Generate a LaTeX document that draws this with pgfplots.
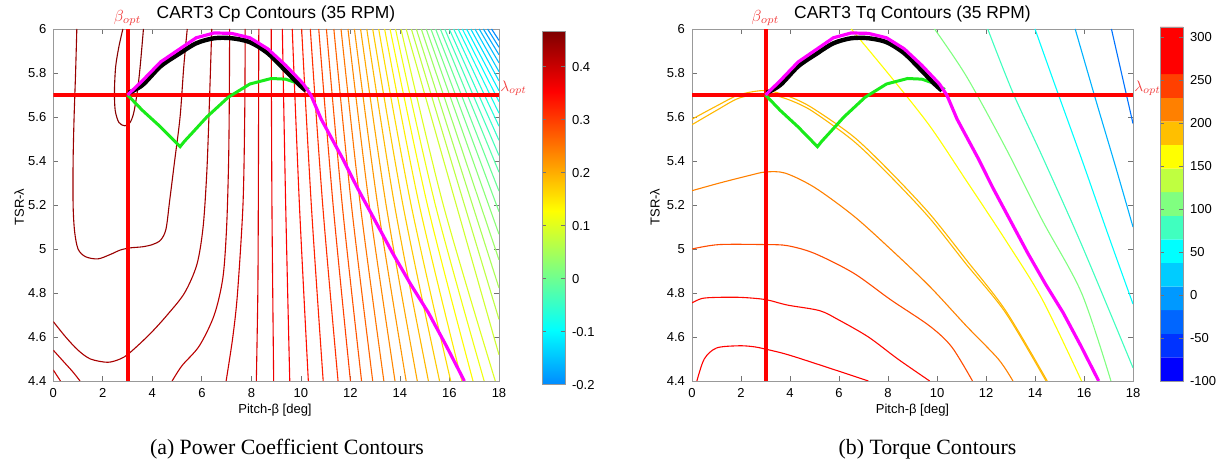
\documentclass[border=0pt]{standalone}
\usepackage{pgfplots}
\pgfplotsset{compat=1.18}
\usepackage{fontspec}
\setmainfont{Liberation Sans}
\newfontfamily\seriffont{Liberation Serif}
\newcommand{\CL}[4]{\addplot[line width=0.55pt, smooth, tension=0.5, color={rgb,1:red,#1;green,#2;blue,#3}] coordinates {#4};}
\newcommand{\tfont}{\fontsize{6.5}{7.5}\selectfont}
\definecolor{optred}{rgb}{0.95,0.25,0.25}
\definecolor{mgreen}{rgb}{0.1,0.92,0.1}
\definecolor{mmag}{rgb}{1,0,1}
\pgfplotsset{
  myax/.style={scale only axis, anchor=south west, xmin=0, xmax=18, ymin=4.4, ymax=6,
    xtick={0,2,4,6,8,10,12,14,16,18}, xticklabels={0,2,4,6,8,10,12,14,16,18},
    ytick={4.4,4.6,4.8,5,5.2,5.4,5.6,5.8,6},
    yticklabels={4.4,4.6,4.8,5,5.2,5.4,5.6,5.8,6},
    tick align=inside, major tick length=2.5pt,
    axis line style={draw=black!40},
    every tick/.style={draw=black!55, line width=0.4pt},
    tick label style={font=\tfont},
    /pgf/number format/assume math mode=true},
  optlines/.style={red, line width=2pt},
}
\begin{document}
\begin{tikzpicture}
\path[use as bounding box] (0,0) rectangle (611pt,232pt);
% ---------------- left axis: Cp -----------------
\begin{axis}[myax, name=L, at={(26.65pt,41.5pt)}, width=222.85pt, height=176pt,
  colormap={cpjet}{rgb(0cm)=(0,0.54,1); rgb(1.55cm)=(0,1,1); rgb(4.93cm)=(1,1,0); rgb(8.31cm)=(1,0,0); rgb(10cm)=(0.5,0,0)},
  point meta min=-0.2, point meta max=0.466,
  colorbar,
  colorbar style={at={(parent axis.north east)}, anchor=north west, xshift=13pt, yshift=-1.35pt,
    width=11.5pt, height=176.6pt, scale only axis,
    ytick={-0.2,-0.1,0,0.1,0.2,0.3,0.4}, yticklabels={-0.2,-0.1,0,0.1,0.2,0.3,0.4},
    yticklabel pos=right, tick align=inside, major tick length=2pt,
    axis line style={draw=black!40}, every tick/.style={draw=black!55, line width=0.4pt},
    yticklabel style={font=\tfont}}]
\CL{0.53}{0}{0}{(2.81,6.0) (2.65,5.92) (2.52,5.83) (2.47,5.72) (2.5,5.63) (2.65,5.575) (2.89,5.56) (3.1,5.575) (3.25,5.62) (3.4,5.72) (3.5,5.82) (3.58,5.92) (3.64,6.0)}
\CL{0.6}{0}{0}{(0.95,6) (0.9,5.8) (0.84,5.6) (0.8,5.4) (0.8,5.2) (0.86,5.08) (1.0,5.0) (1.3,4.965) (1.8,4.955) (2.3,4.975) (2.7,4.995) (3.1,5.005) (3.6,5.01) (4.0,5.02) (4.33,5.04) (4.55,5.09) (4.7,5.22) (4.9,5.4) (5.12,5.6) (5.27,5.83) (5.41,6)}
\CL{0.66}{0}{0}{(0,4.67) (0.5,4.6) (1.0,4.54) (1.5,4.5) (2.2,4.485) (2.7,4.5) (3.0,4.52) (3.5,4.57) (4.0,4.625) (4.6,4.7) (5.3,4.8) (5.8,4.93) (6.05,5.1) (6.2,5.35) (6.3,5.65) (6.4,6.0)}
\CL{0.73}{0}{0}{(0,4.54) (0.4,4.49) (0.8,4.44) (1.08,4.4)}
\CL{0.73}{0}{0}{(4.8,4.4) (5.2,4.47) (5.9,4.56) (6.5,4.7) (6.85,4.87) (7.0,5.1) (7.08,5.4) (7.11,5.7) (7.12,6.0)}
\CL{0.79}{0}{0}{(0,4.45) (0.29,4.4)}
\CL{0.79}{0}{0}{(6.98,4.4) (7.25,4.6) (7.44,4.8) (7.66,5.2) (7.73,5.6) (7.75,6)}
\CL{0.86}{0}{0}{(8.2,4.4) (8.26,4.8) (8.28,5.2) (8.29,5.6) (8.3,6)}
\CL{0.93}{0}{0}{(8.9,4.4) (8.83,5.2) (8.8,6)}
\CL{0.99}{0}{0}{(9.55,4.4) (9.385,5.2) (9.25,6)}
\CL{1}{0.06}{0}{(10.3,4.4) (9.94,5.2) (9.65,6)}
\CL{1}{0.13}{0}{(10.9,4.4) (10.42,5.2) (10.03,6)}
\CL{1}{0.19}{0}{(11.5,4.4) (10.88,5.2) (10.38,6)}
\CL{1}{0.26}{0}{(12.0,4.4) (11.3,5.2) (10.72,6)}
\CL{1}{0.33}{0}{(12.45,4.4) (11.67,5.2) (11.03,6)}
\CL{1}{0.39}{0}{(12.9,4.4) (12.04,5.2) (11.33,6)}
\CL{1}{0.46}{0}{(13.35,4.4) (12.4,5.2) (11.62,6)}
\CL{1}{0.53}{0}{(13.8,4.4) (12.76,5.2) (11.9,6)}
\CL{1}{0.59}{0}{(14.25,4.4) (13.1,5.2) (12.16,6)}
\CL{1}{0.66}{0}{(14.7,4.4) (13.44,5.2) (12.41,6)}
\CL{1}{0.72}{0}{(15.15,4.4) (13.78,5.2) (12.66,6)}
\CL{1}{0.79}{0}{(15.6,4.4) (14.12,5.2) (12.9,6)}
\CL{1}{0.86}{0}{(16.05,4.4) (14.45,5.2) (13.14,6)}
\CL{1}{0.93}{0}{(16.5,4.4) (14.78,5.2) (13.38,6)}
\CL{1}{0.99}{0}{(16.95,4.4) (15.11,5.2) (13.6,6)}
\CL{0.94}{1}{0.06}{(17.4,4.4) (15.43,5.2) (13.82,6)}
\CL{0.87}{1}{0.13}{(17.85,4.4) (15.75,5.2) (14.04,6)}
\CL{0.81}{1}{0.19}{(18,4.519) (14.25,6)}
\CL{0.74}{1}{0.26}{(18,4.68) (14.46,6)}
\CL{0.67}{1}{0.33}{(18,4.823) (14.66,6)}
\CL{0.61}{1}{0.39}{(18,4.951) (14.86,6)}
\CL{0.54}{1}{0.46}{(18,5.067) (15.06,6)}
\CL{0.47}{1}{0.53}{(18,5.17) (15.25,6)}
\CL{0.41}{1}{0.59}{(18,5.263) (15.44,6)}
\CL{0.34}{1}{0.66}{(18,5.349) (15.63,6)}
\CL{0.27}{1}{0.73}{(18,5.425) (15.81,6)}
\CL{0.21}{1}{0.79}{(18,5.494) (15.99,6)}
\CL{0.14}{1}{0.86}{(18,5.558) (16.17,6)}
\CL{0.07}{1}{0.93}{(18,5.617) (16.35,6)}
\CL{0.01}{1}{0.99}{(18,5.67) (16.52,6)}
\CL{0}{0.94}{1}{(18,5.719) (16.69,6)}
\CL{0}{0.875}{1}{(18,5.764) (16.86,6)}
\CL{0}{0.81}{1}{(18,5.806) (17.03,6)}
\CL{0}{0.74}{1}{(18,5.846) (17.2,6)}
\CL{0}{0.67}{1}{(18,5.883) (17.37,6)}
\CL{0}{0.61}{1}{(18,5.917) (17.54,6)}
\CL{0}{0.54}{1}{(18,5.948) (17.7,6)}
% optimum lines
\addplot[optlines] coordinates {(3,4.4) (3,6)};
\addplot[optlines] coordinates {(0,5.7) (18,5.7)};
\addplot[mgreen, line width=1.5pt] coordinates {(3,5.7) (3.6,5.63) (4.33,5.555) (5.12,5.465) (5.3,5.49) (5.63,5.53) (6.2,5.6) (7.07,5.69) (7.94,5.75) (8.8,5.775) (9.38,5.772) (9.96,5.75) (10.32,5.725)};
\addplot[black, line width=2.2pt, smooth] coordinates {(3.05,5.71) (3.6,5.745) (4.33,5.83) (5.05,5.885) (5.77,5.935) (6.5,5.958) (7.2,5.958) (7.94,5.94) (8.66,5.89) (9.38,5.81) (9.9,5.75) (10.2,5.72)};
\addplot[mmag, line width=1.6pt] coordinates {(3,5.7) (3.6,5.765) (4.33,5.85) (5.05,5.905) (5.77,5.96) (6.5,5.982) (7.2,5.98) (7.94,5.96) (8.66,5.91) (9.38,5.835) (10.1,5.75) (10.4,5.7) (10.82,5.59) (11.69,5.41) (12.27,5.28) (12.99,5.13) (13.71,4.98) (14.43,4.84) (15.15,4.71) (15.87,4.56) (16.6,4.4)};
\end{axis}
% ---------------- right axis: Tq -----------------
\begin{axis}[myax, name=R, at={(346pt,41.5pt)}, width=220.5pt, height=176pt]
\CL{1}{0}{0}{(0.2,4.4) (0.5,4.5) (1.0,4.55) (1.9,4.56) (2.5,4.556) (3.0,4.545) (3.9,4.52) (5.3,4.47) (7.2,4.4)}
\CL{1}{0.03}{0}{(0,4.755) (0.4,4.775) (1,4.78) (2,4.78) (3,4.77) (3.9,4.745) (5.2,4.72) (5.95,4.68) (7.2,4.6) (8.4,4.5) (9.7,4.4)}
\CL{1}{0.3}{0}{(0,5.0) (1.1,5.02) (3,5.02) (3.9,5.015) (5,4.98) (6.6,4.89) (8.1,4.77) (9.7,4.65) (10.6,4.555) (11.45,4.4)}
\CL{1}{0.5}{0}{(0,5.265) (1.13,5.3) (2.37,5.335) (3,5.35) (3.8,5.345) (5,5.28) (6.6,5.15) (8.1,5.0) (9.7,4.83) (11.2,4.65) (12.5,4.5) (13.1,4.4)}
\CL{1}{0.72}{0}{(0,5.59) (1,5.65) (1.9,5.70) (2.85,5.72) (3.5,5.71) (4.25,5.68) (5,5.635) (6.6,5.51) (8.1,5.35) (9.7,5.16) (11.2,4.95) (12.8,4.72) (14.5,4.4)}
\CL{1}{0.72}{0}{(0,5.565) (1,5.63) (1.9,5.685) (2.85,5.705) (3.5,5.695) (4.25,5.665) (5,5.62) (6.6,5.49) (8.1,5.33) (9.7,5.14) (11.2,4.93) (12.8,4.71) (14.45,4.4)}
\CL{1}{1}{0}{(6.5,6) (8.1,5.785) (9.7,5.56) (11.2,5.31) (12.8,5.04) (14.3,4.77) (15.9,4.4)}
\CL{0.5}{1}{0.5}{(9.9,6) (11.2,5.785) (12.8,5.46) (14.3,5.13) (15.9,4.8) (17.1,4.4)}
\CL{0.25}{1}{0.75}{(12.07,6) (13.1,5.71) (14.3,5.42) (15.9,5.02) (18,4.46)}
\CL{0}{1}{1}{(14.0,6) (14.8,5.75) (15.9,5.41) (17,5.06) (18,4.75)}
\CL{0}{0.7}{1}{(15.64,6) (16.5,5.67) (17.3,5.37) (18,5.1)}
\CL{0}{0.45}{1}{(17.12,6) (18,5.57)}
\addplot[optlines] coordinates {(3,4.4) (3,6)};
\addplot[optlines] coordinates {(0,5.7) (18,5.7)};
\addplot[mgreen, line width=1.5pt] coordinates {(3,5.7) (3.6,5.63) (4.33,5.555) (5.12,5.465) (5.3,5.49) (5.63,5.53) (6.2,5.6) (7.07,5.69) (7.94,5.75) (8.8,5.775) (9.38,5.772) (9.96,5.75) (10.32,5.725)};
\addplot[black, line width=2.2pt, smooth] coordinates {(3.05,5.71) (3.6,5.745) (4.33,5.83) (5.05,5.885) (5.77,5.935) (6.5,5.958) (7.2,5.958) (7.94,5.94) (8.66,5.89) (9.38,5.81) (9.9,5.75) (10.2,5.72)};
\addplot[mmag, line width=1.6pt] coordinates {(3,5.7) (3.6,5.765) (4.33,5.85) (5.05,5.905) (5.77,5.96) (6.5,5.982) (7.2,5.98) (7.94,5.96) (8.66,5.91) (9.38,5.835) (10.1,5.75) (10.4,5.7) (10.82,5.59) (11.69,5.41) (12.27,5.28) (12.99,5.13) (13.71,4.98) (14.43,4.84) (15.15,4.71) (15.87,4.56) (16.6,4.4)};
\end{axis}
% ---------------- right colorbar -----------------
\begin{axis}[scale only axis, anchor=south west, at={(580pt,41.5pt)}, width=11.5pt, height=177pt,
  xmin=0, xmax=1, ymin=-100, ymax=312, xtick=\empty,
  ytick={-100,-50,0,50,100,150,200,250,300}, yticklabels={-100,-50,0,50,100,150,200,250,300},
  yticklabel pos=right, tick align=inside, major tick length=2pt,
  axis line style={draw=black!40}, every tick/.style={draw=black!55, line width=0.4pt},
  yticklabel style={font=\tfont}, axis on top]
\addplot[draw=none, fill={rgb,1:red,0;green,0;blue,1}] coordinates {(0,-100) (1,-100) (1,-72.53) (0,-72.53) (0,-100)};
\addplot[draw=none, fill={rgb,1:red,0;green,0.2;blue,1}] coordinates {(0,-72.53) (1,-72.53) (1,-45.07) (0,-45.07) (0,-72.53)};
\addplot[draw=none, fill={rgb,1:red,0;green,0.4;blue,1}] coordinates {(0,-45.07) (1,-45.07) (1,-17.6) (0,-17.6) (0,-45.07)};
\addplot[draw=none, fill={rgb,1:red,0;green,0.6;blue,1}] coordinates {(0,-17.6) (1,-17.6) (1,9.87) (0,9.87) (0,-17.6)};
\addplot[draw=none, fill={rgb,1:red,0;green,0.8;blue,1}] coordinates {(0,9.87) (1,9.87) (1,37.33) (0,37.33) (0,9.87)};
\addplot[draw=none, fill={rgb,1:red,0;green,1;blue,1}] coordinates {(0,37.33) (1,37.33) (1,64.8) (0,64.8) (0,37.33)};
\addplot[draw=none, fill={rgb,1:red,0.25;green,1;blue,0.75}] coordinates {(0,64.8) (1,64.8) (1,92.27) (0,92.27) (0,64.8)};
\addplot[draw=none, fill={rgb,1:red,0.5;green,1;blue,0.5}] coordinates {(0,92.27) (1,92.27) (1,119.73) (0,119.73) (0,92.27)};
\addplot[draw=none, fill={rgb,1:red,0.75;green,1;blue,0.25}] coordinates {(0,119.73) (1,119.73) (1,147.2) (0,147.2) (0,119.73)};
\addplot[draw=none, fill={rgb,1:red,1;green,1;blue,0}] coordinates {(0,147.2) (1,147.2) (1,174.67) (0,174.67) (0,147.2)};
\addplot[draw=none, fill={rgb,1:red,1;green,0.75;blue,0}] coordinates {(0,174.67) (1,174.67) (1,202.13) (0,202.13) (0,174.67)};
\addplot[draw=none, fill={rgb,1:red,1;green,0.5;blue,0}] coordinates {(0,202.13) (1,202.13) (1,229.6) (0,229.6) (0,202.13)};
\addplot[draw=none, fill={rgb,1:red,1;green,0.25;blue,0}] coordinates {(0,229.6) (1,229.6) (1,257.07) (0,257.07) (0,229.6)};
\addplot[draw=none, fill={rgb,1:red,1;green,0;blue,0}] coordinates {(0,257.07) (1,257.07) (1,312) (0,312) (0,257.07)};
\end{axis}
% ---------------- texts -----------------
\node[font=\fontsize{8.7}{9.5}\selectfont, anchor=base] at (138pt,222.75pt) {CART3 Cp Contours (35 RPM)};
\node[font=\fontsize{8.7}{9.5}\selectfont, anchor=base] at (456.25pt,222.75pt) {CART3 Tq Contours (35 RPM)};
\node[font=\tfont, anchor=base] at (137.5pt,25pt) {Pitch-β [deg]};
\node[font=\tfont, anchor=base] at (456.25pt,25pt) {Pitch-β [deg]};
\node[font=\tfont, rotate=90] at (9.65pt,128.5pt) {TSR-λ};
\node[font=\tfont, rotate=90] at (327.5pt,128.5pt) {TSR-λ};
\node[optred, anchor=south, inner sep=0pt, scale=0.8, transform shape] at (63.8pt,218.9pt) {$\beta_{opt}$};
\node[optred, anchor=south, inner sep=0pt, scale=0.8, transform shape] at (382.75pt,218.9pt) {$\beta_{opt}$};
\node[optred, anchor=south west, inner sep=0pt, scale=0.76, transform shape] at (250pt,183.85pt) {$\lambda_{opt}$};
\node[optred, anchor=south west, inner sep=0pt, scale=0.76, transform shape] at (567pt,183.85pt) {$\lambda_{opt}$};
\node[font=\seriffont\fontsize{10.9}{12}\selectfont, anchor=base] at (143.5pt,4.5pt) {(a) Power Coefficient Contours};
\node[font=\seriffont\fontsize{10.9}{12}\selectfont, anchor=base] at (463.75pt,4.5pt) {(b) Torque Contours};
\end{tikzpicture}
\end{document}
